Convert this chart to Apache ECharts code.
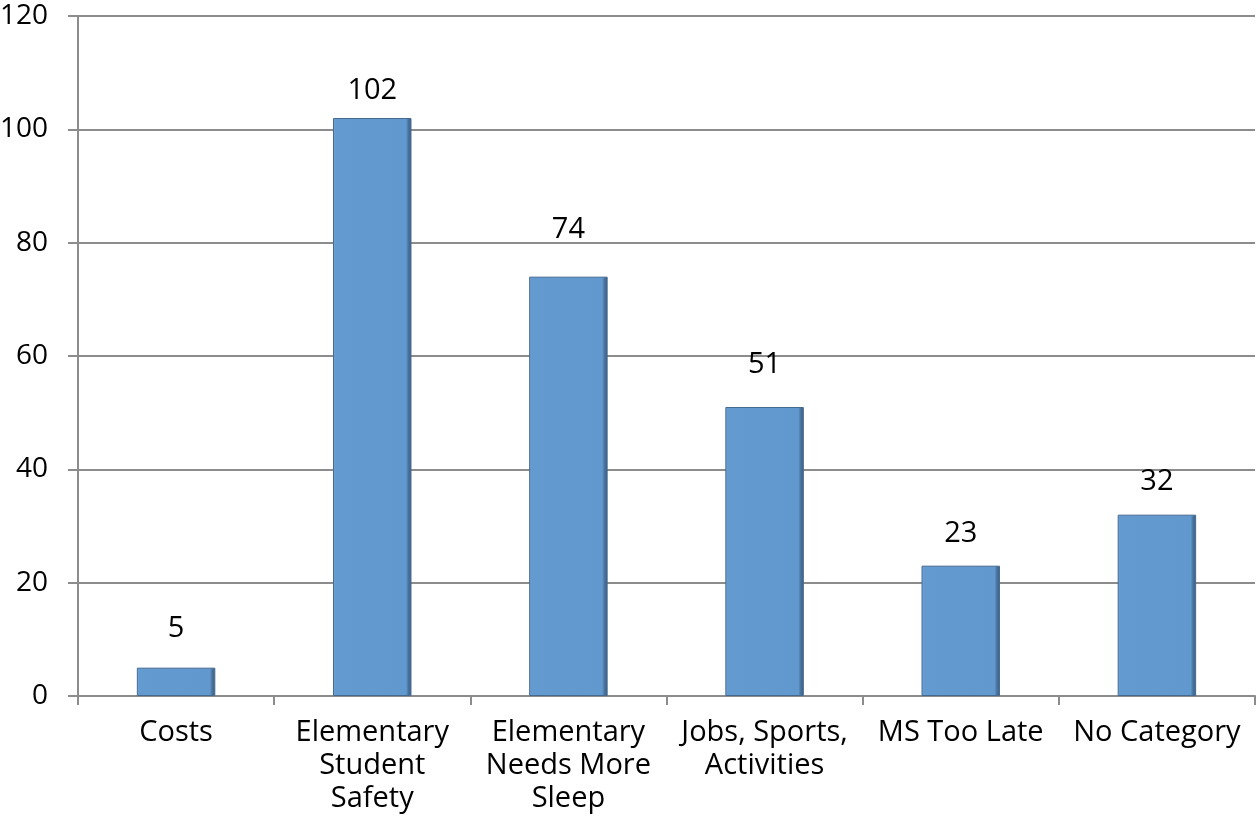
<!DOCTYPE html>
<html>
<head>
<meta charset="utf-8">
<script src="https://cdn.jsdelivr.net/npm/echarts@6/dist/echarts.min.js"></script>
<style>html,body{margin:0;padding:0;background:#fff}#c{width:1259px;height:820px}</style>
</head>
<body>
<div id="c"></div>
<script>
const categories = ["Costs", "Elementary\nStudent\nSafety", "Elementary\nNeeds More\nSleep", "Jobs, Sports,\nActivities", "MS Too Late", "No Category"];
const values = [5, 102, 74, 51, 23, 32];
const yTicks = { min: 0, max: 120, interval: 20 };
// label gap above each bar (as placed in the original chart)
const labelGap = [24, 13, 32, 28, 17, 18];

const font = "'Open Sans', sans-serif";
const chart = echarts.init(document.getElementById('c'), null, { renderer: 'canvas' });
chart.setOption({
  animation: false,
  backgroundColor: '#ffffff',
  grid: { left: 78, right: 4, top: 16, bottom: 124, containLabel: false, outerBoundsMode: 'none' },
  xAxis: {
    type: 'category',
    data: categories,
    axisLine: { lineStyle: { color: '#8c8c8c', width: 2 } },
    axisTick: { show: true, length: 9, alignWithLabel: false, lineStyle: { color: '#8c8c8c', width: 2 } },
    axisLabel: { color: '#000', fontFamily: font, fontSize: 29, lineHeight: 33, margin: 20, interval: 0 }
  },
  yAxis: {
    type: 'value',
    min: yTicks.min, max: yTicks.max, interval: yTicks.interval,
    axisLine: { show: true, lineStyle: { color: '#8c8c8c', width: 2 } },
    axisTick: { show: true, length: 10, lineStyle: { color: '#8c8c8c', width: 2 } },
    splitLine: { show: true, lineStyle: { color: '#8c8c8c', width: 2 } },
    axisLabel: { color: '#000', fontFamily: font, fontSize: 28, margin: 30 }
  },
  series: [{
    type: 'bar',
    data: values.map((v, i) => ({ value: v, label: { distance: labelGap[i] } })),
    barWidth: '40%',
    itemStyle: {
      color: new echarts.graphic.LinearGradient(0, 0, 1, 0, [
        { offset: 0, color: '#78aadb' },
        { offset: 0.03, color: '#639bd0' },
        { offset: 0.93, color: '#6199cf' },
        { offset: 0.96, color: '#48739e' },
        { offset: 1, color: '#3a5f85' }
      ]),
      borderColor: '#46698f',
      borderWidth: 1
    },
    label: {
      show: true, position: 'top',
      color: '#000', fontFamily: font, fontSize: 29
    }
  }]
});
</script>
</body>
</html>
